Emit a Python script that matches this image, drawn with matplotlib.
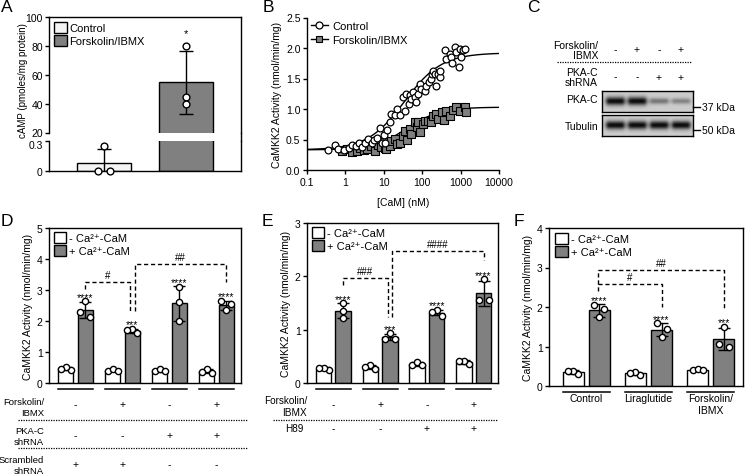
import numpy as np
import matplotlib
matplotlib.use("Agg")
import matplotlib.pyplot as plt
from matplotlib.patches import Patch
from matplotlib.lines import Line2D
import matplotlib.transforms as mtransforms

plt.rcParams['font.family'] = ['Liberation Sans', 'DejaVu Sans']
plt.rcParams['font.size'] = 7.5
plt.rcParams['axes.linewidth'] = 1.0
plt.rcParams['xtick.major.width'] = 1.0
plt.rcParams['ytick.major.width'] = 1.0
plt.rcParams['xtick.major.size'] = 3
plt.rcParams['ytick.major.size'] = 3
plt.rcParams['xtick.major.pad'] = 2
plt.rcParams['ytick.major.pad'] = 1.5

# ---------------- DATA ----------------
# Panel A
a_labels = ['Control', 'Forskolin/IBMX']
a_control = [0.245, 0.0, 0.0]
a_fsk = [80.0, 45.0, 40.0]
a_sig = '*'

# Panel B
b_labels = ['Control', 'Forskolin/IBMX']
b_xticks = [0.1, 1, 10, 100, 1000, 10000]
b_xticklabels = ['0.1', '1', '10', '100', '1000', '10000']
ctrl_conc = [0.36, 0.56, 0.66, 0.95, 1.25, 1.47, 1.9, 2.3, 2.7, 3.3, 4.0, 5.1, 5.6, 6.7,
             7.9, 8.9, 10.3, 10.6, 11.9, 14.6, 16, 19.6, 22, 26, 32, 35, 39, 45, 48, 53,
             58, 65, 70, 80, 88, 96, 120, 129, 150, 175, 180, 195, 215, 235, 260, 290,
             300, 390, 430, 530, 580, 600, 710, 780, 900, 960, 1020, 1150, 1300]
ctrl_act = [0.33, 0.41, 0.34, 0.33, 0.36, 0.41, 0.39, 0.44, 0.38, 0.45, 0.51, 0.44, 0.50, 0.53,
            0.69, 0.45, 0.58, 0.44, 0.66, 0.79, 0.92, 0.90, 1.00, 0.90, 1.19, 0.97, 1.25, 1.08, 1.23, 1.16,
            1.28, 1.20, 1.12, 1.25, 1.41, 1.33, 1.29, 1.38, 1.45, 1.49, 1.58, 1.63, 1.57, 1.38, 1.57, 1.52,
            1.62, 1.96, 1.82, 1.90, 1.85, 1.75, 2.01, 1.93, 1.69, 1.98, 1.85, 1.96, 1.98]
fsk_conc = [0.84, 1.1, 1.5, 2.0, 2.5, 3.0, 3.6, 4.7, 5.9, 7.3, 8.5, 10, 10.6, 11.8, 14.5, 16,
            19.5, 22, 26, 32, 35, 40, 48, 53, 65, 72, 80, 88, 106, 120, 143, 170, 195, 235,
            260, 320, 375, 430, 530, 640, 780, 960, 1300, 1380]
fsk_act = [0.31, 0.34, 0.30, 0.31, 0.36, 0.33, 0.34, 0.39, 0.31, 0.41, 0.38, 0.46, 0.36, 0.34,
           0.40, 0.48, 0.51, 0.42, 0.45, 0.55, 0.64, 0.50, 0.67, 0.59, 0.78, 0.70, 0.78, 0.62,
           0.75, 0.80, 0.81, 0.78, 0.89, 0.92, 0.84, 0.95, 0.82, 0.97, 0.89, 0.98, 1.03, 0.96,
           1.04, 0.95]
# fitted dose-response parameters: bottom, top, EC50 (nM), Hill slope
ctrl_fit = [0.33, 1.92, 35.0, 0.9]
fsk_fit = [0.33, 1.03, 40.0, 1.0]

# Panel C (western blot)
c_fsk = ['-', '+', '-', '+']
c_shrna = ['-', '-', '+', '+']
c_pka_band = [1.0, 1.0, 0.45, 0.38]
c_tub_band = [1.0, 1.0, 1.0, 1.0]
c_markers = ['37 kDa', '50 kDa']

# Panel D
d_white = [[0.42, 0.53, 0.46], [0.40, 0.45, 0.40], [0.38, 0.45, 0.38], [0.33, 0.45, 0.36]]
d_gray = [[2.63, 2.28, 2.12], [1.75, 1.62, 1.70], [3.10, 2.60, 2.00], [2.63, 2.55, 2.35]]
d_stars = ['****', '***', '****', '****']
d_fsk = ['-', '+', '-', '+']
d_pka = ['-', '-', '+', '+']
d_scr = ['+', '+', '-', '-']

# Panel E
e_white = [[0.24, 0.29, 0.28], [0.27, 0.33, 0.30], [0.33, 0.40, 0.33], [0.36, 0.42, 0.41]]
e_gray = [[1.50, 1.35, 1.22], [0.93, 0.83, 0.82], [1.36, 1.34, 1.26], [1.95, 1.55, 1.55]]
e_stars = ['****', '***', '****', '****']
e_fsk = ['-', '+', '-', '+']
e_h89 = ['-', '-', '+', '+']

# Panel F
f_white = [[0.30, 0.38, 0.38], [0.27, 0.35, 0.33], [0.40, 0.44, 0.40]]
f_gray = [[2.05, 1.95, 1.74], [1.59, 1.44, 1.25], [1.50, 1.00, 1.06]]
f_stars = ['****', '****', '***']
f_groups = ['Control', 'Liraglutide', 'Forskolin/\nIBMX']

ddf_legend = ['- Ca\u00b2\u207a-CaM', '+ Ca\u00b2\u207a-CaM']
ylab_act = 'CaMKK2 Activity (nmol/min/mg)'

# ---------------- STYLE / LAYOUT ----------------
GRAY = '#808080'
LIGHT = '#f4f4f4'
W, H = 745, 477
fig = plt.figure(figsize=(W / 100, H / 100), dpi=100)


def fx(x):
    return x / W


def fy(y):
    return 1 - y / H


def add_ax(x0, y0, x1, y1):
    return fig.add_axes([x0 / W, 1 - y1 / H, (x1 - x0) / W, (y1 - y0) / H])


def swarm(vals, ypx_per_unit, xunits_per_px, diam=6.0, sp=5.0):
    vals = np.asarray(vals, float)
    ypx = vals * ypx_per_unit
    order = np.argsort(-ypx, kind='stable')
    clusters, cur = [], [order[0]]
    for i in order[1:]:
        if ypx[cur[-1]] - ypx[i] < diam:
            cur.append(i)
        else:
            clusters.append(cur)
            cur = [i]
    clusters.append(cur)
    offs = np.zeros(len(vals))
    for c in clusters:
        k = len(c)
        if k == 1:
            pat = [0]
        elif k == 2:
            pat = [-1, 1]
        elif k == 3:
            pat = [0, -1, 1]
        else:
            pat = [j - (k - 1) / 2 for j in range(k)]
        for idx, p in zip(c, pat):
            offs[idx] = p * sp * xunits_per_px
    return offs


def panel_letter(x, y, s):
    fig.text(fx(x), fy(y), s, fontsize=12.5, ha='left', va='center')


def sq_legend(ax, labels, colors, x, y, fs=8):
    handles = [Patch(facecolor=c, edgecolor='k', lw=1.0) for c in colors]
    ax.legend(handles, labels, loc='upper left', bbox_to_anchor=(fx(x), fy(y)),
              bbox_transform=fig.transFigure, frameon=False, borderpad=0, borderaxespad=0,
              handlelength=1.15, handleheight=1.1, handletextpad=0.25, labelspacing=0.2,
              fontsize=fs)


# ---------------- PANEL A ----------------
ax_up = add_ax(49, 18.3, 241, 134)
ax_lo = add_ax(49, 142, 241, 171.7)
a_x = np.arange(2)
a_means = [np.mean(a_control), np.mean(a_fsk)]
a_sds = [np.std(a_control, ddof=1), np.std(a_fsk, ddof=1)]
for ax in (ax_up, ax_lo):
    ax.bar(a_x, a_means, width=0.66, color=[LIGHT, GRAY], edgecolor='k', lw=1.0, zorder=2)
    ax.errorbar(a_x, a_means, yerr=a_sds, fmt='none', ecolor='k', elinewidth=1, capsize=5,
                capthick=1, zorder=3)
    ax.set_xlim(-0.67, 1.67)
    ax.set_xticks([])
ax_up.set_ylim(20, 100)
ax_up.set_yticks([20, 40, 60, 80, 100])
ax_up.spines['bottom'].set_visible(False)
ax_lo.set_ylim(0, 0.3)
ax_lo.set_yticks([0, 0.3])
ax_lo.set_yticklabels(['0', '0.3'])
ax_lo.spines['top'].set_visible(False)
# nudge the touching break-axis labels apart slightly
lab03 = ax_lo.get_yticklabels()[1]
lab03.set_transform(lab03.get_transform() + mtransforms.ScaledTranslation(0, -3 / 100, fig.dpi_scale_trans))
lab20 = ax_up.get_yticklabels()[0]
lab20.set_transform(lab20.get_transform() + mtransforms.ScaledTranslation(0, 1 / 100, fig.dpi_scale_trans))
up_h = 115.7 / 80.0
lo_h = 29.7 / 0.3
offs_c = swarm(a_control, lo_h, 2.34 / 192, sp=6)
ax_lo.scatter(a_x[0] + offs_c, a_control, s=24, facecolor='white', edgecolor='k', lw=1.0,
              zorder=4, clip_on=False)
offs_f = swarm(a_fsk, up_h, 2.34 / 192, sp=6)
ax_up.scatter(a_x[1] + offs_f, a_fsk, s=24, facecolor='white', edgecolor='k', lw=1.0,
              zorder=4, clip_on=False)
ax_up.annotate(a_sig, (a_x[1], a_means[1] + a_sds[1]), xytext=(0, 9),
               textcoords='offset points', ha='center', va='bottom', fontsize=8)
fig.add_artist(Line2D([fx(241), fx(241)], [fy(134), fy(142)], color='k', lw=1.0))
fig.text(fx(23), fy(81), 'cAMP (pmoles/mg protein)', rotation=90, ha='center', va='center',
         fontsize=7)
sq_legend(ax_up, a_labels, [LIGHT, GRAY], 54, 23)
panel_letter(1, 8, 'A')

# ---------------- PANEL B ----------------
axb = add_ax(306.7, 18.5, 499, 171)
xx = np.logspace(-1, 4, 300)
for (bot, top, ec, h) in (ctrl_fit, fsk_fit):
    axb.plot(xx, bot + (top - bot) / (1 + (ec / xx) ** h), color='k', lw=1.0, zorder=2)
axb.scatter(fsk_conc, fsk_act, marker='s', s=26, facecolor=GRAY, edgecolor='k', lw=0.8, zorder=3)
axb.scatter(ctrl_conc, ctrl_act, marker='o', s=24, facecolor='white', edgecolor='k', lw=0.9, zorder=4)
axb.set_xscale('log')
axb.set_xlim(0.1, 10000)
axb.set_ylim(0, 2.5)
axb.set_xticks(b_xticks)
axb.set_xticklabels(b_xticklabels)
axb.minorticks_off()
axb.set_yticks(np.arange(0, 2.51, 0.5))
axb.set_yticklabels([f'{v:.1f}' for v in np.arange(0, 2.51, 0.5)])
axb.spines['top'].set_visible(False)
axb.spines['right'].set_visible(False)
axb.set_xlabel('[CaM] (nM)', labelpad=7)
axb.set_ylabel(ylab_act, labelpad=3)
hb = [Line2D([], [], color='k', lw=1, marker='o', ms=5, mfc='white', mec='k', mew=0.9),
      Line2D([], [], color='k', lw=1, marker='s', ms=5, mfc=GRAY, mec='k', mew=0.8)]
axb.legend(hb, b_labels, loc='upper left', bbox_to_anchor=(fx(311), fy(22)),
           bbox_transform=fig.transFigure, frameon=False, borderpad=0, borderaxespad=0,
           handlelength=1.5, handletextpad=0.4, labelspacing=0.35, fontsize=8)
panel_letter(263, 8, 'B')

# ---------------- PANEL C ----------------
panel_letter(527, 8, 'C')


def blot(y0, y1, bands, thick):
    ax = add_ax(601.7, y0, 692.7, y1)
    xl = (1 - 13.3 / 22, 4 + 11.7 / 22)
    gx = np.linspace(xl[0], xl[1], 300)
    gy = np.linspace(0, 1, 80)
    X, Y = np.meshgrid(gx, gy)
    img = np.full(X.shape, 0.80)
    for i, b in enumerate(bands):
        lane = i + 1
        prof_x = 1 / (1 + ((X - lane) / 0.42) ** 8)
        prof_y = np.exp(-((Y - 0.52) / (thick * (0.5 + 0.5 * b))) ** 2)
        img -= 0.76 * b * prof_x * prof_y
    ax.imshow(img, cmap='gray', vmin=0, vmax=1, extent=[xl[0], xl[1], 0, 1], aspect='auto',
              origin='lower', interpolation='bilinear')
    ax.set_xlim(*xl)
    ax.set_ylim(0, 1)
    ax.set_xticks([])
    ax.set_yticks([])
    for s in ax.spines.values():
        s.set_linewidth(1.0)
    return ax


ax_pka = blot(91.7, 112.7, c_pka_band, 0.2)
ax_tub = blot(115.5, 136.5, c_tub_band, 0.2)
trc = mtransforms.blended_transform_factory(ax_pka.transData, fig.transFigure)
lanes = np.arange(1, len(c_fsk) + 1)
for x, s1, s2 in zip(lanes, c_fsk, c_shrna):
    fig.text(x, fy(50.5), s1, transform=trc, ha='center', va='center')
    fig.text(x, fy(77.5), s2, transform=trc, ha='center', va='center')
fig.text(fx(598), fy(51), 'Forskolin/\nIBMX', ha='right', va='center', multialignment='right',
         linespacing=1.1)
fig.text(fx(598), fy(78), 'PKA-C\nshRNA', ha='right', va='center', multialignment='right',
         linespacing=1.1)
fig.add_artist(Line2D([fx(557), fx(692)], [fy(63.3), fy(63.3)], color='k', lw=0.9,
                      ls=(0, (1, 1))))
fig.text(fx(598), fy(100), 'PKA-C', ha='right', va='center')
fig.text(fx(598), fy(126.5), 'Tubulin', ha='right', va='center')
for yv, lab in zip([108.3, 130.7], c_markers):
    fig.add_artist(Line2D([fx(692.7), fx(700)], [fy(yv), fy(yv)], color='k', lw=1.0))
    fig.text(fx(702), fy(yv), lab, ha='left', va='center', fontsize=7.5)


# ---------------- PANELS D, E, F ----------------
def bar_panel(box, white, gray, ylim, xlim, stars):
    ax = add_ax(*box)
    wpx = box[2] - box[0]
    hpx = box[3] - box[1]
    ypu = hpx / (ylim[1] - ylim[0])
    xpp = (xlim[1] - xlim[0]) / wpx
    tops = []
    for g, (wv, gv) in enumerate(zip(white, gray)):
        for off, vals, col in ((-0.21, wv, 'white'), (0.21, gv, GRAY)):
            x = g + off
            m = np.mean(vals)
            s = np.std(vals, ddof=1)
            ax.bar(x, m, width=0.33, color=col, edgecolor='k', lw=1.0, zorder=2)
            ax.errorbar(x, m, yerr=s, fmt='none', ecolor='k', elinewidth=1, capsize=4,
                        capthick=1, zorder=3)
            o = swarm(vals, ypu, xpp)
            ax.scatter(x + o, vals, s=20, facecolor='white', edgecolor='k', lw=1.0, zorder=4,
                       clip_on=False)
        tops.append(max(max(gv), np.mean(gv) + np.std(gv, ddof=1)))
    for g, (t, st) in enumerate(zip(tops, stars)):
        ax.annotate(st, (g + 0.21, t), xytext=(0, -0.5), textcoords='offset points',
                    ha='center', va='bottom', fontsize=7.5)
    ax.set_xlim(*xlim)
    ax.set_ylim(*ylim)
    ax.set_xticks([])
    ax.set_yticks(np.arange(ylim[0], ylim[1] + 0.01, 1))
    ax.set_yticklabels([str(int(v)) for v in np.arange(ylim[0], ylim[1] + 0.01, 1)])
    for g in range(len(white)):
        ax.plot([g - 0.375, g + 0.375], [-6 / ypu] * 2, color='k', lw=1.1, clip_on=False)
    ax.set_ylabel(ylab_act, labelpad=3)
    return ax


def bracket(ax, x1, x2, y1, ytop, y2, label):
    ax.plot([x1, x1, x2, x2], [y1, ytop, ytop, y2], color='k', lw=1.0, ls=(0, (3, 2)),
            clip_on=False, zorder=5)
    ax.annotate(label, ((x1 + x2) / 2, ytop), xytext=(0, 1.5), textcoords='offset points',
                ha='center', va='bottom', fontsize=7)


TFS = 6.8
# D
axd = bar_panel((49, 229, 241, 384), d_white, d_gray, (0, 5), (-0.564, 3.52), d_stars)
sq_legend(axd, ddf_legend, ['white', GRAY], 53.5, 233)
bracket(axd, 0.21, 1.16, 3.03, 3.25, 2.33, '#')
bracket(axd, 1.26, 3.21, 2.33, 3.84, 3.25, '##')
trd = mtransforms.blended_transform_factory(axd.transData, fig.transFigure)
for g in range(4):
    fig.text(g, fy(405), d_fsk[g], transform=trd, ha='center', va='center')
    fig.text(g, fy(436.5), d_pka[g], transform=trd, ha='center', va='center')
    fig.text(g, fy(465.5), d_scr[g], transform=trd, ha='center', va='center')
fig.text(fx(44), fy(408), 'Forskolin/\nIBMX', ha='right', va='center', multialignment='right',
         fontsize=TFS, linespacing=1.3)
fig.text(fx(44), fy(437), 'PKA-C\nshRNA', ha='right', va='center', multialignment='right',
         fontsize=TFS, linespacing=1.3)
fig.text(fx(44), fy(466), 'Scrambled\nshRNA', ha='right', va='center', multialignment='right',
         fontsize=TFS, linespacing=1.3)
for yv in (420.7, 449.3):
    fig.add_artist(Line2D([fx(18), fx(248)], [fy(yv), fy(yv)], color='k', lw=0.9,
                          ls=(0, (1, 1))))
panel_letter(1, 222, 'D')

# E
axe = bar_panel((307, 224, 498, 384), e_white, e_gray, (0, 3), (-0.564, 3.52), e_stars)
sq_legend(axe, ddf_legend, ['white', GRAY], 311.5, 228)
bracket(axe, 0.21, 1.16, 1.84, 1.97, 1.23, '###')
bracket(axe, 1.26, 3.21, 1.23, 2.47, 2.31, '####')
tre = mtransforms.blended_transform_factory(axe.transData, fig.transFigure)
for g in range(4):
    fig.text(g, fy(405), e_fsk[g], transform=tre, ha='center', va='center')
    fig.text(g, fy(429.5), e_h89[g], transform=tre, ha='center', va='center')
fig.text(fx(307), fy(407), 'Forskolin/\nIBMX', ha='right', va='center', multialignment='right',
         fontsize=7.2, linespacing=1.3)
fig.text(fx(304), fy(429.5), 'H89', ha='right', va='center', fontsize=7.2)
fig.add_artist(Line2D([fx(273), fx(498)], [fy(420.7), fy(420.7)], color='k', lw=0.9,
                      ls=(0, (1, 1))))
panel_letter(262, 222, 'E')

# F
axf = bar_panel((549, 229, 743, 387), f_white, f_gray, (0, 4), (-0.6, 2.52), f_stars)
sq_legend(axf, ddf_legend, ['white', GRAY], 555, 234)
bracket(axf, 0.19, 1.21, 2.41, 2.58, 1.99, '#')
bracket(axf, 0.19, 2.21, 2.58, 2.94, 1.92, '##')
trf = mtransforms.blended_transform_factory(axf.transData, fig.transFigure)
for g, lab in enumerate(f_groups):
    fig.text(g, fy(394), lab, transform=trf, ha='center', va='top', linespacing=1.3,
             fontsize=7.5)
panel_letter(514, 222, 'F')

fig.savefig('out.png', dpi=100)
